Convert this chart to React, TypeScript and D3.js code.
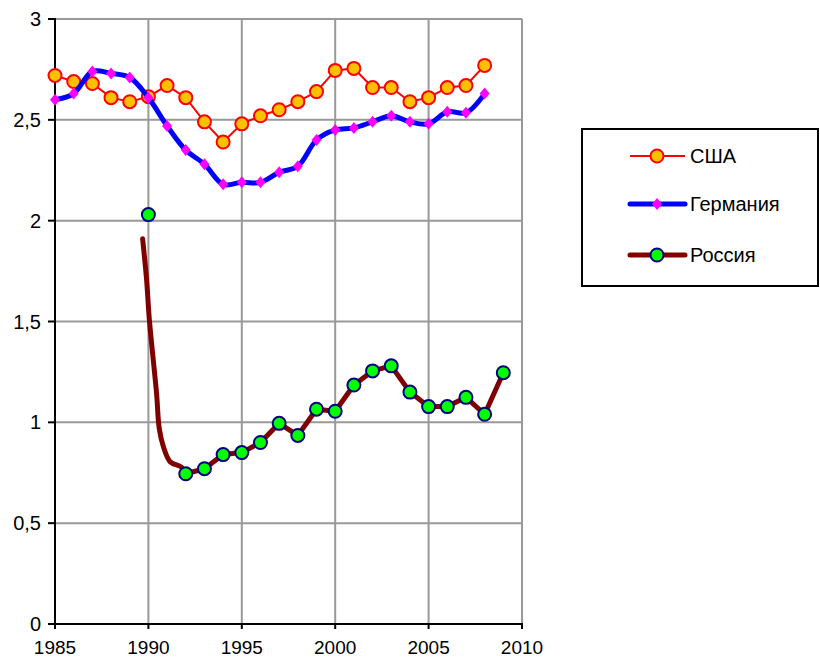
import React, { useEffect, useRef } from 'react';
import * as d3 from 'd3';

// Years and values
const usaYears = d3.range(1985, 2009);
const usaValues = [
    2.72, 2.69, 2.68, 2.61, 2.59, 2.615, 2.67, 2.61, 2.49, 2.39, 2.48, 2.52,
    2.55, 2.59, 2.64, 2.745, 2.755, 2.66, 2.66, 2.59, 2.61, 2.66, 2.67, 2.77,
];

const germanyYears = d3.range(1985, 2009);
const germanyValues = [
    2.6, 2.63, 2.74, 2.73, 2.71, 2.61, 2.47, 2.35, 2.28, 2.18, 2.19, 2.19,
    2.24, 2.27, 2.4, 2.45, 2.46, 2.49, 2.52, 2.49, 2.48, 2.54, 2.535, 2.63,
];

// Russia: early line without markers, then yearly points with markers
const russiaEarlyYears = [1989.69, 1989.9, 1990.05, 1990.26, 1990.44, 1990.58, 1990.8, 1991.16, 1991.78, 1992];
const russiaEarlyValues = [1.91, 1.71, 1.51, 1.31, 1.14, 0.97, 0.88, 0.805, 0.777, 0.745];
const russiaYears = d3.range(1992, 2010);
const russiaValues = [
    0.745, 0.77, 0.84, 0.85, 0.9, 0.995, 0.935, 1.065, 1.055, 1.185, 1.255, 1.28,
    1.15, 1.078, 1.078, 1.124, 1.04, 1.246,
];
const russia1990 = { year: 1990, value: 2.03 };

const xTicks = [1985, 1990, 1995, 2000, 2005, 2010];
const yTicks = [0, 0.5, 1, 1.5, 2, 2.5, 3];

const legendItems = ['США', 'Германия', 'Россия'];

const FONT = '"Liberation Sans", Arial, sans-serif';

export default function App() {
    const svgRef = useRef<SVGSVGElement>(null);

    useEffect(() => {
        if (!svgRef.current) return;
        const svg = d3.select(svgRef.current);
        svg.selectAll('*').remove();

        const x = d3.scaleLinear().domain([1985, 2010]).range([55, 522]);
        const y = d3.scaleLinear().domain([0, 3]).range([624, 19]);

        const fmt = (v: number) => String(v).replace('.', ',');

        // Gridlines
        const grid = svg.append('g');
        grid.selectAll('line.h')
            .data(yTicks.filter(t => t > 0))
            .enter()
            .append('line')
            .attr('x1', x(1985))
            .attr('x2', x(2010))
            .attr('y1', d => y(d))
            .attr('y2', d => y(d))
            .attr('stroke', '#999')
            .attr('stroke-width', 2);
        grid.selectAll('line.v')
            .data(xTicks.filter(t => t > 1985))
            .enter()
            .append('line')
            .attr('x1', d => x(d))
            .attr('x2', d => x(d))
            .attr('y1', y(0))
            .attr('y2', y(3))
            .attr('stroke', '#999')
            .attr('stroke-width', 2);

        // Axes
        const axis = svg.append('g');
        axis.append('line')
            .attr('x1', x(1985)).attr('x2', x(1985))
            .attr('y1', y(3) - 1).attr('y2', y(0) + 1)
            .attr('stroke', '#000').attr('stroke-width', 2);
        axis.append('line')
            .attr('x1', x(1985) - 1).attr('x2', x(2010) + 1)
            .attr('y1', y(0)).attr('y2', y(0))
            .attr('stroke', '#000').attr('stroke-width', 2);

        axis.selectAll('line.yt')
            .data(yTicks)
            .enter()
            .append('line')
            .attr('x1', x(1985) - 7)
            .attr('x2', x(1985))
            .attr('y1', d => y(d))
            .attr('y2', d => y(d))
            .attr('stroke', '#000')
            .attr('stroke-width', 2);
        axis.selectAll('line.xt')
            .data(xTicks)
            .enter()
            .append('line')
            .attr('x1', d => x(d))
            .attr('x2', d => x(d))
            .attr('y1', y(0))
            .attr('y2', y(0) + 5)
            .attr('stroke', '#000')
            .attr('stroke-width', 2);

        axis.selectAll('text.yl')
            .data(yTicks)
            .enter()
            .append('text')
            .attr('x', x(1985) - 14)
            .attr('y', d => y(d) + 7)
            .attr('text-anchor', 'end')
            .attr('font-family', FONT)
            .attr('font-size', 20)
            .text(d => fmt(d));
        axis.selectAll('text.xl')
            .data(xTicks)
            .enter()
            .append('text')
            .attr('x', d => x(d))
            .attr('y', 654)
            .attr('text-anchor', 'middle')
            .attr('font-family', FONT)
            .attr('font-size', 19)
            .text(d => d);

        const linePath = (curve: d3.CurveFactory) =>
            d3.line<[number, number]>()
                .x(d => x(d[0]))
                .y(d => y(d[1]))
                .curve(curve);

        const diamond = (cx: number, cy: number, w = 5, h = 6) => {
            const p = d3.path();
            p.moveTo(cx, cy - h);
            p.lineTo(cx + w, cy);
            p.lineTo(cx, cy + h);
            p.lineTo(cx - w, cy);
            p.closePath();
            return p.toString();
        };

        const plot = svg.append('g');

        // USA
        const usaPts = usaYears.map((yr, i) => [yr, usaValues[i]] as [number, number]);
        plot.append('path')
            .attr('d', linePath(d3.curveLinear)(usaPts))
            .attr('fill', 'none')
            .attr('stroke', '#ff0000')
            .attr('stroke-width', 2);
        plot.selectAll('circle.usa')
            .data(usaPts)
            .enter()
            .append('circle')
            .attr('cx', d => x(d[0]))
            .attr('cy', d => y(d[1]))
            .attr('r', 6.5)
            .attr('fill', '#ffc000')
            .attr('stroke', '#ff0000')
            .attr('stroke-width', 2);

        // Germany
        const gerPts = germanyYears.map((yr, i) => [yr, germanyValues[i]] as [number, number]);
        plot.append('path')
            .attr('d', linePath(d3.curveCatmullRom)(gerPts))
            .attr('fill', 'none')
            .attr('stroke', '#0000ff')
            .attr('stroke-width', 5)
            .attr('stroke-linejoin', 'round');
        plot.selectAll('path.ger')
            .data(gerPts)
            .enter()
            .append('path')
            .attr('d', d => diamond(x(d[0]), y(d[1])))
            .attr('fill', '#ff00ff');

        // Russia
        const rusEarly = russiaEarlyYears.map((yr, i) => [yr, russiaEarlyValues[i]] as [number, number]);
        const rusPts = russiaYears.map((yr, i) => [yr, russiaValues[i]] as [number, number]);
        plot.append('path')
            .attr('d', linePath(d3.curveCatmullRom)(rusEarly))
            .attr('fill', 'none')
            .attr('stroke', '#800000')
            .attr('stroke-width', 5)
            .attr('stroke-linecap', 'round');
        plot.append('path')
            .attr('d', linePath(d3.curveLinear)(rusPts))
            .attr('fill', 'none')
            .attr('stroke', '#800000')
            .attr('stroke-width', 5)
            .attr('stroke-linejoin', 'round');
        plot.selectAll('circle.rus')
            .data([[russia1990.year, russia1990.value] as [number, number], ...rusPts])
            .enter()
            .append('circle')
            .attr('cx', d => x(d[0]))
            .attr('cy', d => y(d[1]))
            .attr('r', 6.5)
            .attr('fill', '#00ff00')
            .attr('stroke', '#000080')
            .attr('stroke-width', 2);

        // Legend
        const legend = svg.append('g');
        legend.append('rect')
            .attr('x', 582)
            .attr('y', 129)
            .attr('width', 236)
            .attr('height', 157)
            .attr('fill', '#fff')
            .attr('stroke', '#000')
            .attr('stroke-width', 2);
        const rowY = [156, 204, 255];
        legendItems.forEach((label, i) => {
            const ly = rowY[i];
            const g = legend.append('g');
            if (i === 0) {
                g.append('line').attr('x1', 630).attr('x2', 685).attr('y1', ly).attr('y2', ly)
                    .attr('stroke', '#ff0000').attr('stroke-width', 2);
                g.append('circle').attr('cx', 657).attr('cy', ly).attr('r', 6.5)
                    .attr('fill', '#ffc000').attr('stroke', '#ff0000').attr('stroke-width', 2);
            } else if (i === 1) {
                g.append('line').attr('x1', 630).attr('x2', 685).attr('y1', ly).attr('y2', ly)
                    .attr('stroke', '#0000ff').attr('stroke-width', 5).attr('stroke-linecap', 'round');
                g.append('path').attr('d', diamond(657, ly)).attr('fill', '#ff00ff');
            } else {
                g.append('line').attr('x1', 630).attr('x2', 685).attr('y1', ly).attr('y2', ly)
                    .attr('stroke', '#800000').attr('stroke-width', 5).attr('stroke-linecap', 'round');
                g.append('circle').attr('cx', 657).attr('cy', ly).attr('r', 6.5)
                    .attr('fill', '#00ff00').attr('stroke', '#000080').attr('stroke-width', 2);
            }
            g.append('text')
                .attr('x', 690)
                .attr('y', ly + 7)
                .attr('font-family', FONT)
                .attr('font-size', 20)
                .text(label);
        });
    }, []);

    return (
        <svg
            ref={svgRef}
            width={820}
            height={659}
            style={{ position: 'absolute', left: 0, top: 0, background: '#fff' }}
        ></svg>
    );
}
